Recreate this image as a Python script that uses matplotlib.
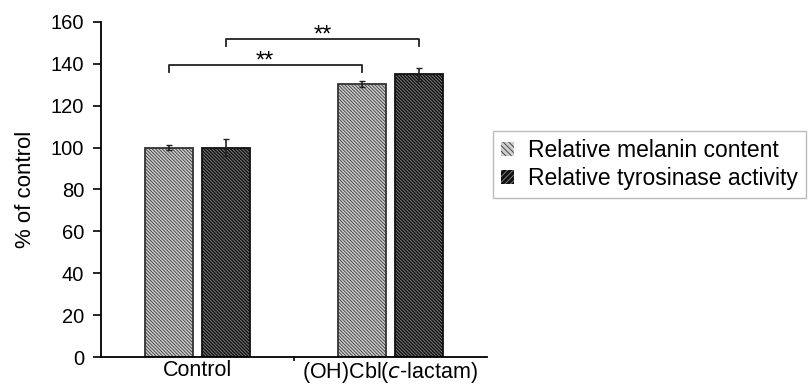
import numpy as np
import matplotlib
matplotlib.use("Agg")
from matplotlib import pyplot as plt
from matplotlib.patches import Patch

plt.rcParams['font.family'] = ['Liberation Sans', 'DejaVu Sans']
plt.rcParams['hatch.linewidth'] = 0.7

# data
groups = ['Control', '(OH)Cbl($\\it{c}$-lactam)']
melanin = [100, 130.5]
melanin_err = [1.2, 1.5]
tyrosinase = [100, 135]
tyrosinase_err = [4, 3]
labels = ['Relative melanin content', 'Relative tyrosinase activity']

fig = plt.figure(figsize=(8.1, 3.85), dpi=100)
ax = fig.add_axes([0.1247, 0.0727, 0.4765, 0.8702])

x = np.arange(len(groups))
w = 0.249
off = 0.15
hatch_back = '\\' * 10

# bars: fill + hatch first, outline second
ax.bar(x - off, melanin, w, color='#cfcfcf', edgecolor='#4a4a4a', hatch=hatch_back, linewidth=0)
ax.bar(x - off, melanin, w, fill=False, edgecolor='#333333', linewidth=1.3)
ax.bar(x + off, tyrosinase, w, color='#101010', edgecolor='#7a7a7a', hatch=hatch_back, linewidth=0)
ax.bar(x + off, tyrosinase, w, fill=False, edgecolor='#111111', linewidth=1.3)

ax.errorbar(x - off, melanin, yerr=melanin_err, fmt='none', ecolor='#222222', elinewidth=1.2, capsize=2.5)
ax.errorbar(x + off, tyrosinase, yerr=tyrosinase_err, fmt='none', ecolor='#222222', elinewidth=1.2, capsize=2.5)

# significance brackets
def bracket(x1, x2, y, h, text):
    ax.plot([x1, x1, x2, x2], [y - h, y, y, y - h], color='#222222', lw=1.3, clip_on=False)
    ax.text((x1 + x2) / 2, y - 3.5, text, ha='center', va='bottom', fontsize=17)

bracket(x[0] - off, x[1] - off, 139.5, 3.5, '**')
bracket(x[0] + off, x[1] + off, 152, 3.5, '**')

ax.set_xlim(-0.5, 1.5)
ax.set_ylim(0, 160)
ax.set_yticks(np.arange(0, 161, 20))
ax.set_xticks([0.5], minor=True)
ax.set_xticks(x)
ax.set_xticklabels(groups, fontsize=15.5)
ax.tick_params(axis='x', which='major', length=0, pad=2)
ax.tick_params(axis='x', which='minor', length=3, width=1.2, direction='out')
ax.tick_params(axis='y', labelsize=14.5, length=6, width=1.2, direction='out', pad=6)
ax.set_ylabel('% of control', fontsize=16, labelpad=11)

for s in ['top', 'right']:
    ax.spines[s].set_visible(False)
for s in ['left', 'bottom']:
    ax.spines[s].set_linewidth(1.3)

handles = [Patch(facecolor='#cfcfcf', edgecolor='#4a4a4a', hatch='\\' * 6, linewidth=0),
           Patch(facecolor='#101010', edgecolor='#7a7a7a', hatch='/' * 6, linewidth=0)]
fig.legend(handles, labels, loc='upper left', bbox_to_anchor=(0.6086, 0.66),
           borderaxespad=0, fontsize=16.5, frameon=True, fancybox=False, edgecolor='#aaaaaa',
           handlelength=0.55, handleheight=0.55, handletextpad=0.65,
           labelspacing=0.22, borderpad=0.35)

fig.savefig('out.png', dpi=100)
